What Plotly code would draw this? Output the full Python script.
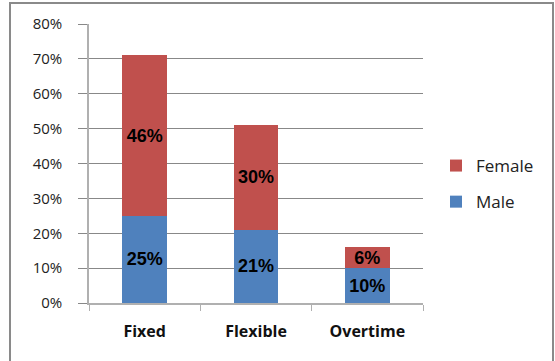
import plotly.graph_objects as go

categories = ["Fixed", "Flexible", "Overtime"]
male = [25, 21, 10]
female = [46, 30, 6]
y_ticks = [0, 10, 20, 30, 40, 50, 60, 70, 80]
y_labels = [f"{v}%" for v in y_ticks]

W, H = 555, 361
L, R, T, B = 89, 132, 24, 58
pw, ph = W - L - R, H - T - B

label_font = dict(family="Liberation Sans", size=18, color="black", weight="bold")

fig = go.Figure()
fig.add_trace(go.Bar(
    name="Male", x=categories, y=male, marker_color="#4F81BD",
    text=[f"{v}%" for v in male], textposition="inside", insidetextanchor="middle",
    textfont=label_font, constraintext="none", cliponaxis=False,
    marker_line_width=0, legendgroup="m", legendrank=2,
))
fig.add_trace(go.Bar(
    name="Female", x=categories, y=female, marker_color="#C0504D",
    text=[f"{v}%" for v in female], textposition="inside", insidetextanchor="middle",
    textfont=label_font, constraintext="none", cliponaxis=False,
    marker_line_width=0, legendgroup="f", legendrank=1,
))

def px_x(x):
    return (x - L) / pw

def px_y(y):
    return 1 - (y - T) / ph

fig.update_layout(
    width=W, height=H,
    margin=dict(l=L, r=R, t=T, b=B, autoexpand=False),
    barmode="stack", bargap=0.6,
    plot_bgcolor="white", paper_bgcolor="white",
    showlegend=True,
    legend=dict(traceorder="grouped", x=px_x(436), y=px_y(148), xanchor="left", yanchor="top",
                font=dict(family="Open Sans", size=17, color="#222"), itemwidth=30,
                tracegroupgap=11, bgcolor="rgba(0,0,0,0)"),
    font=dict(family="Open Sans", color="#222"),
    uniformtext=dict(mode="show", minsize=8),
    shapes=[dict(type="rect", xref="paper", yref="paper",
                 x0=px_x(10), x1=px_x(553), y0=px_y(3), y1=px_y(380),
                 line=dict(color="#8a8a8a", width=2), fillcolor="rgba(0,0,0,0)", layer="below")],
)
fig.update_xaxes(
    showline=True, linecolor="#b0b0b0", linewidth=1.5,
    ticks="outside", tickson="boundaries", ticklen=6, tickcolor="#b0b0b0",
    tickfont=dict(family="Open Sans", size=16, color="#111", weight="bold"),
    ticklabelstandoff=13, showgrid=False,
)
fig.update_yaxes(
    range=[0, 80], tickvals=y_ticks, ticktext=y_labels,
    showline=True, linecolor="#b0b0b0", linewidth=1.5,
    ticks="outside", ticklen=9, tickcolor="#888",
    showgrid=True, gridcolor="#888", gridwidth=1,
    tickfont=dict(family="Open Sans", size=15, color="#222"),
    ticklabelstandoff=13, zeroline=False,
)

fig.write_html("out.html")
